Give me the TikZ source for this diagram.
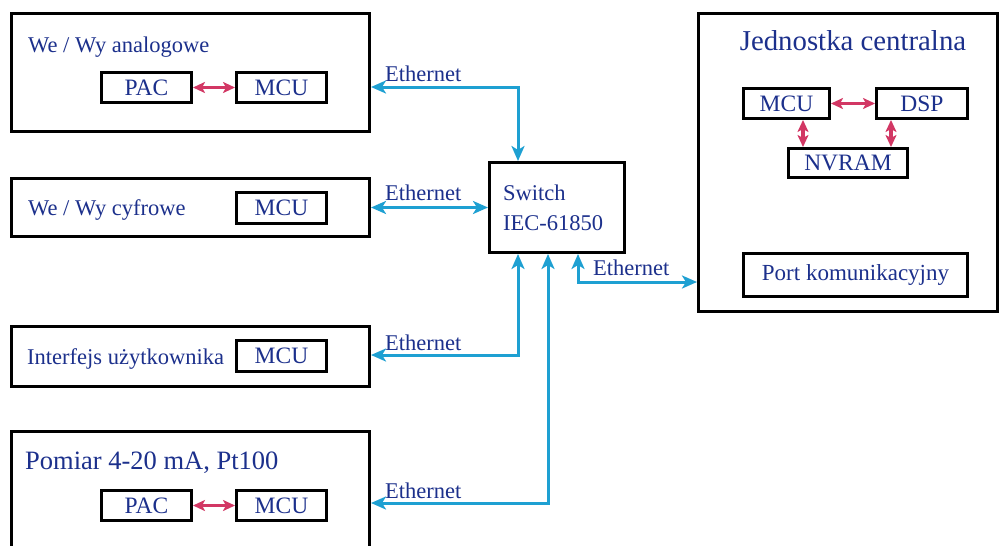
\documentclass[tikz,border=0pt]{standalone}
\usepackage{fontspec}
\setmainfont{Liberation Serif}
\usetikzlibrary{arrows.meta}
\definecolor{txt}{RGB}{28,48,140}
\definecolor{ethc}{RGB}{30,160,210}
\definecolor{lnkc}{RGB}{210,55,100}
\begin{document}
\begin{tikzpicture}[x=1pt,y=-1pt,
  frame/.style={draw=black,line width=3pt,inner sep=0pt,anchor=north west},
  unit/.style={draw=black,line width=3pt,inner sep=0pt,anchor=north west,text=txt,font=\fontsize{23.5}{25}\selectfont},
  lbl/.style={text=txt,font=\fontsize{22.5}{24}\selectfont,inner sep=0pt,anchor=base west},
  ethl/.style={draw=ethc,line width=3pt,{Stealth[length=15pt,width=13pt,inset=4pt]}-{Stealth[length=15pt,width=13pt,inset=4pt]}},
  redl/.style={draw=lnkc,line width=3.2pt,{Stealth[length=12pt,width=11pt,inset=3pt]}-{Stealth[length=12pt,width=11pt,inset=3pt]}}]
\useasboundingbox (0,0) rectangle (999,546);
\clip (0,0) rectangle (999,546);
\fill[white] (0,0) rectangle (999,546);

% left modules
\node[frame,minimum width=358pt,minimum height=118pt] (b1) at (10,12) {};
\node[lbl] (t1) at (28,52) {We / Wy analogowe};
\node[unit,minimum width=90pt,minimum height=30pt] (pac1) at (100,71) {PAC};
\node[unit,minimum width=90pt,minimum height=30pt] (mcu1) at (235,71) {MCU};

\node[frame,minimum width=358pt,minimum height=58pt] (b2) at (10,177) {};
\node[lbl] (t2) at (28,215) {We / Wy cyfrowe};
\node[unit,minimum width=90pt,minimum height=31pt] (mcu2) at (235,191) {MCU};

\node[frame,minimum width=358pt,minimum height=60pt] (b3) at (10,325) {};
\node[lbl] (t3) at (27,364) {Interfejs użytkownika};
\node[unit,minimum width=90pt,minimum height=31pt] (mcu3) at (235,339) {MCU};

\node[frame,minimum width=358pt,minimum height=130pt] (b4) at (10,430) {};
\node[lbl,font=\fontsize{26.5}{28}\selectfont] (t4) at (25,469) {Pomiar 4-20 mA, Pt100};
\node[unit,minimum width=90pt,minimum height=30pt] (pac4) at (100,489) {PAC};
\node[unit,minimum width=90pt,minimum height=30pt] (mcu4) at (235,489) {MCU};

% switch
\node[frame,minimum width=135pt,minimum height=90pt] (sw) at (488,161) {};
\node[lbl] (sw1) at (503,200) {Switch};
\node[lbl] (sw2) at (503,230) {IEC-61850};

% central unit
\node[frame,minimum width=299pt,minimum height=298pt] (jc) at (697,12) {};
\node[text=txt,font=\fontsize{28.8}{30}\selectfont,inner sep=0pt,anchor=base] (jt) at (853,50) {Jednostka centralna};
\node[unit,minimum width=86pt,minimum height=30pt] (jmcu) at (742,87) {MCU};
\node[unit,minimum width=91pt,minimum height=30pt] (dsp) at (875,87) {DSP};
\node[unit,minimum width=119pt,minimum height=29pt] (nv) at (787,147) {NVRAM};
\node[unit,minimum width=224pt,minimum height=43pt,font=\fontsize{23}{25}\selectfont] (port) at (742,252) {Port komunikacyjny};

% red links
\draw[redl] (pac1.east) -- (mcu1.west);
\draw[redl] (pac4.east) -- (mcu4.west);
\draw[redl] (jmcu.east) -- (dsp.west);
\coordinate (v1) at (803,0);
\coordinate (v2) at (891,0);
\draw[redl] (v1 |- jmcu.south) -- (v1 |- nv.north);
\draw[redl] (v2 |- dsp.south) -- (v2 |- nv.north);

% ethernet links
\coordinate (c1) at (518,87);
\coordinate (c3) at (518,355);
\coordinate (c4) at (548,503);
\coordinate (c5) at (578,282);
\draw[ethl] (c1 -| b1.east) -- (c1) -- (c1 |- sw.north);
\draw[ethl] (b2.east) -- (b2.east -| sw.west);
\draw[ethl] (c3 -| b3.east) -- (c3) -- (c3 |- sw.south);
\draw[ethl] (c4 -| b4.east) -- (c4) -- (c4 |- sw.south);
\draw[ethl] (c5 |- sw.south) -- (c5) -- (c5 -| jc.west);

\node[lbl] (e1) at (385,81) {Ethernet};
\node[lbl] (e2) at (385,200) {Ethernet};
\node[lbl] (e3) at (593,275) {Ethernet};
\node[lbl] (e4) at (385,350) {Ethernet};
\node[lbl] (e5) at (385,498) {Ethernet};
\end{tikzpicture}
\end{document}
